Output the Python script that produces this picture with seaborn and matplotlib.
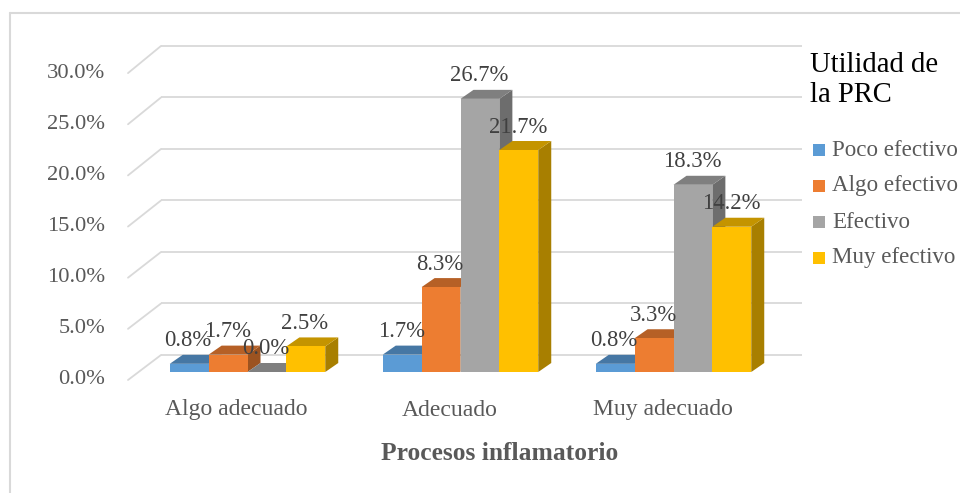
import numpy as np
import pandas as pd
import matplotlib
matplotlib.use("Agg")
import matplotlib.pyplot as plt
from matplotlib.patches import Polygon, Rectangle
from matplotlib.lines import Line2D
import matplotlib.colors as mcolors
import seaborn as sns

# ---- data ----
categories = ["Algo adecuado", "Adecuado", "Muy adecuado"]
series = ["Poco efectivo", "Algo efectivo", "Efectivo", "Muy efectivo"]
poco_efectivo = [0.8, 1.7, 0.8]
algo_efectivo = [1.7, 8.3, 3.3]
efectivo = [0.0, 26.7, 18.3]
muy_efectivo = [2.5, 21.7, 14.2]
y_ticks = [0, 5, 10, 15, 20, 25, 30]
legend_title = "Utilidad de\nla PRC"
x_title = "Procesos inflamatorio"

colors = ["#5B9BD5", "#ED7D31", "#A5A5A5", "#FFC000"]

values = [poco_efectivo, algo_efectivo, efectivo, muy_efectivo]
rows = []
for s, vals in zip(series, values):
    for c, v in zip(categories, vals):
        rows.append({"cat": c, "serie": s, "val": v})
df = pd.DataFrame(rows)

sns.set_style("white")
plt.rcParams["font.family"] = ["Liberation Serif", "DejaVu Serif"]

W, H = 960, 493
fig = plt.figure(figsize=(W / 100, H / 100), dpi=100)
ax = fig.add_axes([0, 0, 1, 1])

sns.barplot(data=df, x="cat", y="val", hue="serie", order=categories,
            hue_order=series, palette=colors, width=0.73, saturation=1,
            linewidth=0, legend=False, ax=ax)

# pixel geometry -> data mapping
X0PX, XSCALE = 247.5, 213.0     # category 0 centre, px per category
Y0PX, YSCALE = 372.0, 10.23     # baseline px, px per percent
ax.set_xlim(-X0PX / XSCALE, (W - X0PX) / XSCALE)
ax.set_ylim((Y0PX - H) / YSCALE, Y0PX / YSCALE)
ax.set_axis_off()

def dx(px):
    return px / XSCALE

def dy(px):
    return px / YSCALE

grid_c = "#D9D9D9"
# back wall gridlines + diagonal connectors from the front axis
back_left, back_right = dx(161 - X0PX), dx(802 - X0PX)
front_left = dx(128 - X0PX)
for v in y_ticks:
    yb = v * 1.007 + dy(Y0PX - 355)
    yf = v + dy(Y0PX - 380)
    ax.plot([back_left, back_right], [yb, yb], color=grid_c, lw=1.3,
            zorder=0.5, solid_capstyle="butt")
    ax.plot([front_left, back_left], [yf, yb], color=grid_c, lw=1.3,
            zorder=0.5)
    ax.text(dx(105 - X0PX), yf, f"{v:.1f}%", ha="right", va="center",
            fontsize=16.2, color="#595959")

# fake 3D faces for bars
ddx, ddy = dx(13), dy(9)

def shade(c, f):
    r, g, b = mcolors.to_rgb(c)
    return (r * f, g * f, b * f)

bars = sorted(ax.patches, key=lambda p: p.get_x())
for k, p in enumerate(bars):
    x0 = p.get_x()
    w = p.get_width()
    h = p.get_height()
    x1 = x0 + w
    fc = p.get_facecolor()
    base = 2 + k * 0.1
    p.set_zorder(base + 0.02)
    side = Polygon([(x1, 0), (x1, h), (x1 + ddx, h + ddy), (x1 + ddx, ddy)],
                   closed=True, facecolor=shade(fc, 0.66), edgecolor="none",
                   zorder=base)
    top = Polygon([(x0, h), (x1, h), (x1 + ddx, h + ddy), (x0 + ddx, h + ddy)],
                  closed=True, facecolor=shade(fc, 0.77), edgecolor="none",
                  zorder=base + 0.01)
    ax.add_patch(side)
    ax.add_patch(top)
    ax.text(x0 + w / 2 - dx(1), h + dy(23), f"{h:.1f}%", ha="center",
            va="center", fontsize=16.3, color="#404040", zorder=10)

# category labels
for i, c in enumerate(categories):
    ax.text(i - dx(11), dy(Y0PX - 410), c, ha="center", va="center",
            fontsize=17, color="#595959")

ax.text(dx(500 - X0PX), dy(Y0PX - 453), x_title, ha="center", va="center",
        fontsize=18.4, fontweight="bold", color="#595959")

# legend (manual, pixel placed)
def fx(px):
    return px / W

def fy(py):
    return 1 - py / H

t1, t2 = legend_title.split("\n")
fig.text(fx(810), fy(72), t1, ha="left", va="baseline", fontsize=20.6,
         color="#000000")
fig.text(fx(810), fy(102), t2, ha="left", va="baseline", fontsize=20.6,
         color="#000000")
for j, (s, c) in enumerate(zip(series, colors)):
    yc = 150 + j * 36
    fig.patches.append(Rectangle((fx(813), fy(yc + 6)), fx(12), 12 / H,
                                 transform=fig.transFigure, facecolor=c,
                                 edgecolor="none"))
    fig.text(fx(832), fy(yc), s, ha="left", va="center", fontsize=16.6,
             color="#595959")

# chart area border
fig.lines.append(Line2D([fx(10), fx(10)], [fy(13), 0], transform=fig.transFigure,
                        color=grid_c, lw=1.5))
fig.lines.append(Line2D([fx(10), 1], [fy(13), fy(13)], transform=fig.transFigure,
                        color=grid_c, lw=1.5))

fig.savefig("out.png", dpi=100, facecolor="white")
